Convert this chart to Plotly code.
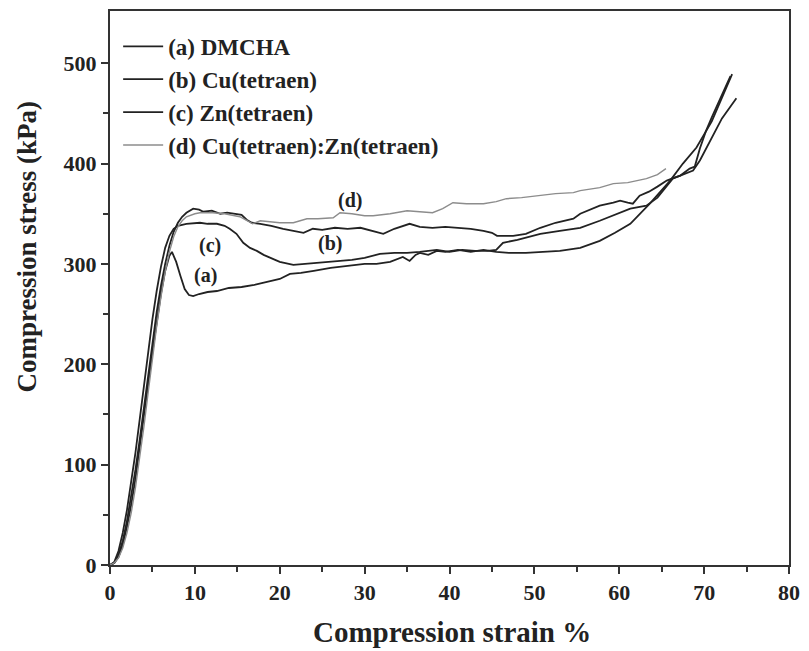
import plotly.graph_objects as go

# (a) DMCHA
xa = [0,0.5,1,1.5,2,2.5,3,3.5,4,4.5,5,5.5,6,6.5,7,7.3,7.8,8.3,8.8,9.3,9.8,10.5,11.5,12.6,14,15.5,17,18.5,20,21.2,22.5,24,26,28,30,31.4,33,34.5,35.3,36,36.5,37.5,38.5,39.5,41,42.5,44,45.5,47,49,51,53,55.4,57.7,59.5,61.3,63.6,66,67.5,69.1,70.9,73.3]
ya = [0,2,8,20,38,60,86,116,148,180,212,243,270,293,308,312,302,288,275,269,268,270,272,273,276,277,279,282,285,290,291,293,296,298,300,300,302,307,303,309,311,309,313,312,314,312,314,312,311,311,312,313,316,323,331,340,360,383,400,416,442,489]

# (b) Cu(tetraen)
xb = [0,0.5,1,1.5,2,2.5,3,3.5,4,4.5,5,5.5,6,6.5,7,7.5,8,8.5,9,9.8,10.5,11,12,13,13.8,14.6,15.5,16.1,16.7,17.7,19,20.4,21.5,22.8,23.9,25,26.5,28,29.5,31,32.2,33.5,35.3,36.5,38,39.5,41.2,42.5,44,45,45.6,46.5,47.5,49,50.7,52.5,54.6,55.4,57.7,59.3,60.1,61,61.6,62.4,63.5,64.5,65.6,66.5,67.2,68.3,68.9,69.5,70.2,70.9,72,73.1]
yb = [0,2,10,24,44,68,95,125,157,190,222,252,278,300,318,332,341,347,351,355,354,352,353,350,351,350,349,344,341,340,338,335,333,331,335,334,336,335,336,333,330,335,340,337,336,337,336,335,333,331,328,328,328,330,336,341,345,350,358,361,363,361,360,368,372,377,383,386,388,395,397,415,432,446,466,487]

# (c) Zn(tetraen)
xc = [0,0.5,1,1.5,2,2.5,3,3.5,4,4.5,5,5.5,6,6.5,7,7.5,8,9,10,10.6,11.5,12.6,13.5,14.1,14.9,15.7,16.5,17.3,18.1,18.9,20,21.6,23,24.4,25.5,27,28.5,30,31.8,33.5,35,36.5,37.3,38.5,40,41.5,43,44.5,45.5,46.3,48,50.7,53,55.4,57.7,59.3,61.3,63.2,64.5,66.3,67.2,68.7,69.5,70.7,72.1,73.8]
yc = [0,3,14,32,55,82,112,145,180,213,245,273,297,316,328,335,338,340,341,341,340,340,338,335,330,321,316,313,309,306,302,299,300,301,302,303,304,306,310,311,311,312,313,314,312,314,313,313,314,321,324,330,333,336,343,348,355,358,366,385,388,393,403,423,445,465]

# (d) Cu(tetraen):Zn(tetraen)
xd = [0,0.5,1,1.5,2,2.5,3,3.5,4,4.5,5,5.5,6,6.5,7,7.5,8,8.5,9,10,10.6,12.1,13.5,15.3,16.2,16.8,17.7,19,20,21.6,23.2,24.5,26.3,27.1,28.5,30,31,33,35,36.5,38,39.2,40.4,42,44,45.5,46.7,48.5,50.7,52.5,54.6,55.4,57.7,59.3,61,63.2,64.5,65.5]
yd = [0,2,7,17,32,52,77,106,138,172,206,238,267,292,312,327,337,343,347,350,351,351,350,347,343,340,343,342,341,341,345,345,346,351,350,348,348,350,353,352,351,355,361,360,360,362,365,366,368,370,371,373,376,380,381,385,389,395]

names = ["(a) DMCHA", "(b) Cu(tetraen)", "(c) Zn(tetraen)", "(d) Cu(tetraen):Zn(tetraen)"]
xticks = [0, 10, 20, 30, 40, 50, 60, 70, 80]
yticks = [0, 100, 200, 300, 400, 500]

labels = ["(a)", "(c)", "(b)", "(d)"]
label_x = [11.2, 11.8, 25.9, 28.3]
label_y = [288, 318, 320, 363]

FONT = "Liberation Serif"
dark = "#222222"

fig = go.Figure()
for xs, ys, nm, col, w in [(xa, ya, names[0], dark, 1.8), (xb, yb, names[1], dark, 1.8),
                           (xc, yc, names[2], dark, 1.8), (xd, yd, names[3], "#8c8c8c", 1.4)]:
    fig.add_trace(go.Scatter(x=xs, y=ys, mode="lines", name=nm,
                             line=dict(color=col, width=w)))

for t, lx, ly in zip(labels, label_x, label_y):
    fig.add_annotation(x=lx, y=ly, text=t, showarrow=False,
                       font=dict(family=FONT, size=20, color="#222", weight="bold"))

# axis titles
fig.add_annotation(xref="paper", yref="paper", x=0.504, y=0, yshift=-67,
                   text="Compression strain %", showarrow=False, yanchor="middle",
                   font=dict(family=FONT, size=29, color="#222", weight="bold"))
fig.add_annotation(xref="paper", yref="paper", x=0, xshift=-83, y=0.575,
                   text="Compression stress (kPa)", showarrow=False, textangle=-90,
                   xanchor="center", yanchor="middle",
                   font=dict(family=FONT, size=27, color="#222", weight="bold"))

axis_common = dict(showline=True, linecolor="#333", linewidth=2, mirror=True,
                   ticks="outside", ticklen=7, tickwidth=1.5, tickcolor="#333",
                   showgrid=False, zeroline=False,
                   tickfont=dict(family=FONT, size=22, color="#222", weight="bold"))

fig.update_xaxes(range=[0, 80], tickvals=xticks,
                 minor=dict(tickvals=[5, 15, 25, 35, 45, 55, 65, 75], ticks="outside",
                            ticklen=5, tickcolor="#333", tickwidth=1.5),
                 **axis_common)
fig.update_yaxes(range=[0, 552], tickvals=yticks,
                 minor=dict(tickvals=[50, 150, 250, 350, 450], ticks="outside",
                            ticklen=5, tickcolor="#333", tickwidth=1.5),
                 **axis_common)

fig.update_layout(
    width=809, height=651,
    margin=dict(l=110, r=20, t=9, b=86),
    paper_bgcolor="white", plot_bgcolor="white",
    font=dict(family=FONT, color="#222"),
    showlegend=True,
    legend=dict(x=0.012, y=0.975, xanchor="left", yanchor="top",
                bgcolor="rgba(0,0,0,0)", borderwidth=0,
                font=dict(family=FONT, size=23, color="#222", weight="bold"),
                tracegroupgap=0, itemwidth=40),
)

fig.write_html("out.html")
